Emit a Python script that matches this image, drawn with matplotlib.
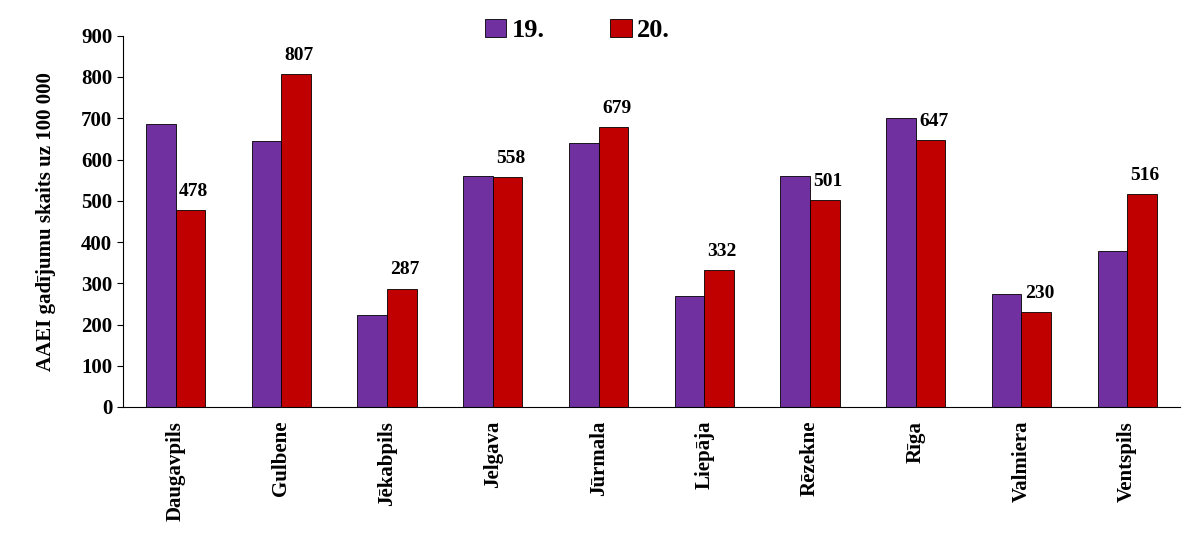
import matplotlib
matplotlib.use("Agg")
import matplotlib.pyplot as plt
import numpy as np

plt.rcParams['font.family'] = ['Liberation Serif', 'DejaVu Serif']
plt.rcParams['font.weight'] = 'bold'

categories = ["Daugavpils", "Gulbene", "Jēkabpils", "Jelgava", "Jūrmala", "Liepāja", "Rēzekne", "Rīga", "Valmiera", "Ventspils"]
s19 = [687, 646, 223, 560, 641, 269, 560, 701, 274, 379]
s20 = [478, 807, 287, 558, 679, 332, 501, 647, 230, 516]
yticks = [0, 100, 200, 300, 400, 500, 600, 700, 800, 900]

fig = plt.figure(figsize=(11.92, 5.5), dpi=100)
ax = fig.add_axes([0.103, 0.26, 0.887, 0.675])
x = np.arange(len(categories))
w = 0.28
ax.bar(x - w/2, s19, w, color='#7030A0', edgecolor='black', linewidth=0.6, label='19.')
ax.bar(x + w/2, s20, w, color='#C00000', edgecolor='black', linewidth=0.6, label='20.')
for xi, v in zip(x, s20):
    ax.text(xi + w/2 + 0.03, v + 25, str(v), ha='center', va='bottom', fontsize=14, fontweight='bold')
ax.set_xlim(-0.5, len(categories) - 0.5)
ax.set_ylim(0, 900)
ax.set_yticks(yticks)
ax.set_yticklabels([str(t) for t in yticks], fontsize=15, fontweight='bold')
ax.set_xticks(x)
ax.set_xticklabels(categories, rotation=90, fontsize=15, fontweight='bold')
ax.tick_params(axis='x', length=0, pad=10)
ax.tick_params(axis='y', direction='out', length=4)
for sp in ['top', 'right']:
    ax.spines[sp].set_visible(False)
ax.set_ylabel('AAEI gadījumu skaits uz 100 000', fontsize=15, fontweight='bold', labelpad=18)
ax.legend(loc='upper center', bbox_to_anchor=(0.43, 1.11), ncol=2, frameon=False,
          prop={'size': 19, 'weight': 'bold'}, handlelength=0.8, handletextpad=0.2, columnspacing=2.5)
fig.savefig('out.png', dpi=100)
